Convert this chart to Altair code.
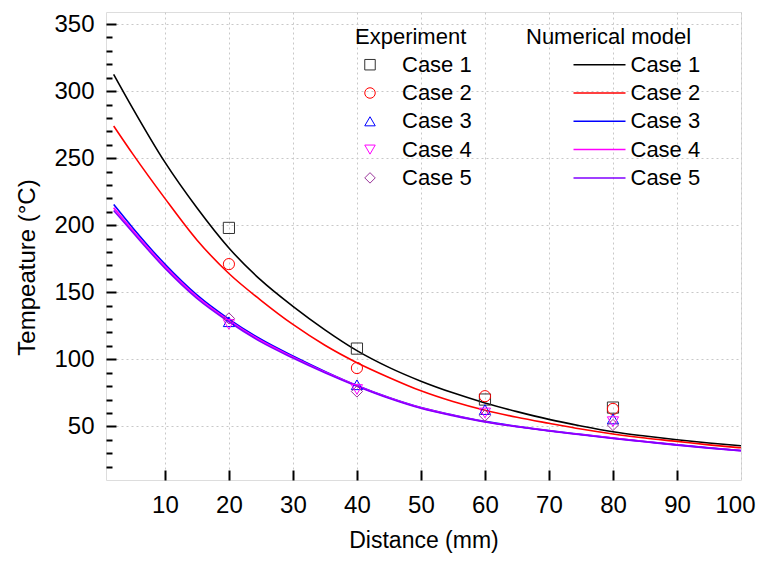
import altair as alt
import pandas as pd

cases = ["Case 1", "Case 2", "Case 3", "Case 4", "Case 5"]

# Numerical model curves
x_model = [2, 5, 10, 15, 20, 25, 30, 35, 40, 45, 50, 55, 60, 65, 70, 75, 80, 85, 90, 95, 100]
model_case1 = [312.5, 287, 247, 213, 183, 159, 139.5, 122, 106.5, 94, 83.7, 75, 67.5, 61, 55.2, 50.3, 46, 42.8, 40, 37.6, 35.5]
model_case2 = [274, 253, 220, 189, 164, 144, 126, 110.5, 97.5, 86.5, 76.5, 68.5, 62, 56.8, 52.3, 48, 44.3, 41.3, 38.8, 36.2, 34]
model_case3 = [215.5, 198, 171, 148, 130, 115, 102.5, 91, 80.5, 71.5, 64, 58.5, 53.7, 50, 46.8, 44, 41.3, 38.7, 36.3, 34, 32]
model_case4 = [213, 196, 169.5, 146.8, 129, 114, 101.8, 90.5, 80.3, 71.3, 63.8, 58.3, 53.5, 49.9, 46.7, 43.9, 41.2, 38.6, 36.2, 33.9, 31.9]
model_case5 = [211, 194.5, 168, 145.5, 128, 113, 101, 90, 80, 71, 63.5, 58, 53.3, 49.7, 46.5, 43.7, 41, 38.5, 36, 33.8, 31.8]

# Experiment points
x_exp = [20, 40, 60, 80]
exp_case1 = [198, 108, 70, 64]
exp_case2 = [171, 93.5, 72.5, 63]
exp_case3 = [128, 81, 62.5, 55.5]
exp_case4 = [126, 77.5, 60, 53.5]
exp_case5 = [130.5, 76, 58, 51]

line_colors = ["#000000", "#ff0000", "#0000ff", "#ff00ff", "#8000ff"]
point_colors = ["#333333", "#ff0000", "#0000ff", "#ff00ff", "#993399"]
point_shapes = ["square", "circle", "triangle-up", "triangle-down", "diamond"]

x_labels = [10, 20, 30, 40, 50, 60, 70, 80, 90, 100]
x_major_ticks = [10, 20, 30, 40, 50, 60, 70, 80, 90]
y_labels = [50, 100, 150, 200, 250, 300, 350]
y_minor_ticks = [20, 30, 40, 50, 60, 70, 80, 90, 100, 110, 120, 130, 140, 150, 160,
                 170, 180, 190, 200, 210, 220, 230, 240, 250, 260, 270, 280, 290,
                 300, 310, 320, 330, 340, 350]

model_series = [model_case1, model_case2, model_case3, model_case4, model_case5]
exp_series = [exp_case1, exp_case2, exp_case3, exp_case4, exp_case5]

model_rows = []
for i, (name, vals) in enumerate(zip(cases, model_series)):
    for x, v in zip(x_model, vals):
        model_rows.append({"x": x, "T": v, "Model": name, "k": i})
model_df = pd.DataFrame(model_rows)

exp_rows = []
for i, (name, vals) in enumerate(zip(cases, exp_series)):
    for x, v in zip(x_exp, vals):
        exp_rows.append({"x": x, "T": v, "Case": name, "k": i})
exp_df = pd.DataFrame(exp_rows)

W, H = 635, 468
xscale = alt.Scale(domain=[0.8, 100], nice=False, zero=False)
yscale = alt.Scale(domain=[10, 359], nice=False, zero=False)
FONT = "Liberation Sans, Arial"
GRID = "#c8c8c8"

lines = alt.Chart(model_df).mark_line(strokeWidth=1.6, clip=True, interpolate="monotone").encode(
    x=alt.X("x:Q", scale=xscale,
            axis=alt.Axis(orient="bottom", values=x_labels, ticks=False, tickSize=0,
                          labelPadding=13, domain=False, grid=True, gridColor=GRID,
                          gridDash=[2, 3], gridWidth=1, labelFontSize=24, labelFont=FONT,
                          labelColor="black", labelFlush=1, labelFlushOffset=14,
                          title="Distance (mm)", titleFontSize=23, titleFont=FONT,
                          titleFontWeight="normal", titleColor="black",
                          titleBaseline="top", titleY=49)),
    y=alt.Y("T:Q", scale=yscale,
            axis=alt.Axis(orient="left", values=y_labels, ticks=False, tickSize=0,
                          labelPadding=12, domain=False, grid=True, gridColor=GRID,
                          gridDash=[2, 3], gridWidth=1, labelFontSize=24, labelFont=FONT,
                          labelColor="black", labelFlush=False,
                          title="Tempeature (°C)", titleFontSize=24, titleFont=FONT,
                          titleFontWeight="normal", titleColor="black",
                          titleBaseline="middle", titleAngle=270, titleX=-79, titleY=255)),
    color=alt.Color("Model:N", scale=alt.Scale(domain=cases, range=line_colors),
                    legend=alt.Legend(title="Numerical model", orient="none",
                                      legendX=420, legendY=14.7, padding=0,
                                      titleFontSize=22, titleFont=FONT, titleFontWeight="normal",
                                      titleColor="black", titlePadding=5,
                                      labelFontSize=22, labelFont=FONT, labelColor="black",
                                      symbolType="stroke", symbolSize=2704,
                                      symbolStrokeWidth=1.5, symbolOffset=46.5,
                                      labelOffset=4, clipHeight=22, rowPadding=6.3)),
    order=alt.Order("x:Q"),
)

points = alt.Chart(exp_df).mark_point(filled=False, size=125, strokeWidth=1, opacity=1).encode(
    x=alt.X("x:Q", scale=xscale,
            axis=alt.Axis(orient="top", offset=-H, values=x_major_ticks, labels=False,
                          domain=False, grid=False, ticks=True, tickSize=10,
                          tickWidth=2, tickColor="black", title=None)),
    y=alt.Y("T:Q", scale=yscale,
            axis=alt.Axis(orient="right", offset=-W, values=y_minor_ticks, labels=False,
                          domain=False, grid=False, ticks=True,
                          tickSize={"condition": {"test": "datum.value % 50 === 0", "value": 10}, "value": 6},
                          tickWidth=2, tickColor="black", title=None)),
    color=alt.Color("Case:N", scale=alt.Scale(domain=cases, range=point_colors),
                    legend=alt.Legend(title="Experiment", orient="none",
                                      legendX=249, legendY=14.7, padding=0,
                                      titleFontSize=22, titleFont=FONT, titleFontWeight="normal",
                                      titleColor="black", titlePadding=5,
                                      labelFontSize=22, labelFont=FONT, labelColor="black",
                                      symbolSize=110, symbolStrokeWidth=1,
                                      symbolOffset=4, labelOffset=21, clipHeight=22,
                                      rowPadding=6.3)),
    shape=alt.Shape("Case:N", scale=alt.Scale(domain=cases, range=point_shapes)),
    order=alt.Order("k:Q"),
)

chart = alt.layer(lines, points).resolve_scale(
    color="independent", shape="independent"
).resolve_axis(
    x="independent", y="independent"
).properties(
    width=W, height=H,
    padding={"left": 98, "top": 4, "right": 15, "bottom": 73},
    autosize="none",
).configure_view(
    stroke="black", strokeWidth=2
).configure(
    background="white"
)

chart.save("out.html", embed_options={"renderer": "svg", "actions": False})
